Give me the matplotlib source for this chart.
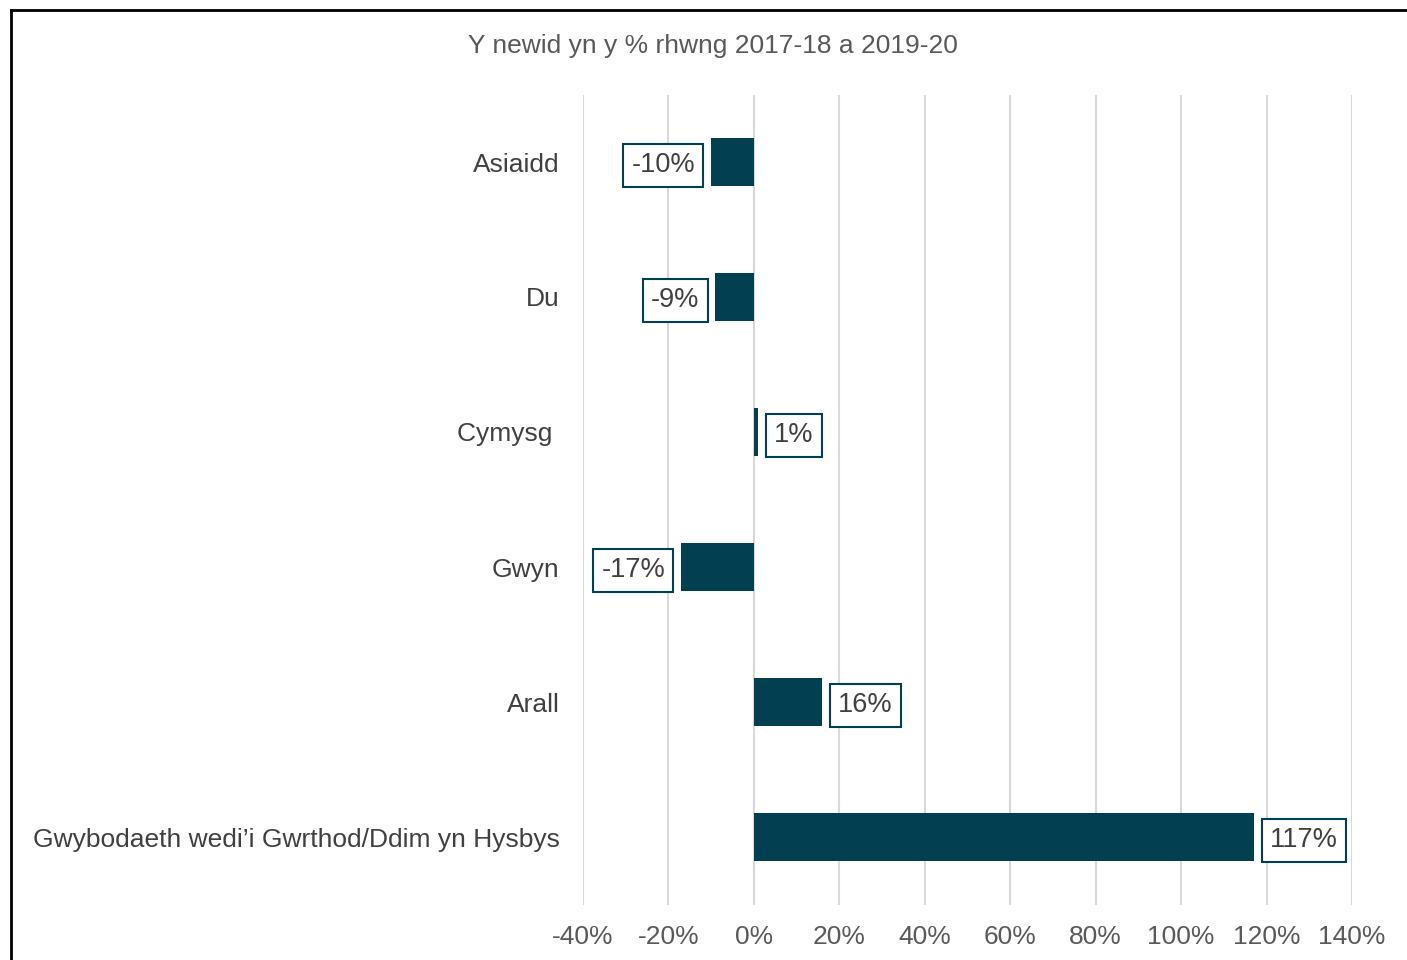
import matplotlib
matplotlib.use("Agg")
import matplotlib.pyplot as plt
from matplotlib.lines import Line2D
from matplotlib.ticker import FuncFormatter

plt.rcParams['font.family'] = ['Liberation Sans', 'DejaVu Sans']

# data
categories = ["Asiaidd", "Du", "Cymysg ", "Gwyn", "Arall",
              "Gwybodaeth wedi\u2019i Gwrthod/Ddim yn Hysbys"]
values = [-10, -9, 1, -17, 16, 117]
labels = ["-10%", "-9%", "1%", "-17%", "16%", "117%"]
ticks = [-40, -20, 0, 20, 40, 60, 80, 100, 120, 140]

bar_col = "#023f50"
txt_col = "#404040"

fig = plt.figure(figsize=(14.07, 9.6), dpi=100)
ax = fig.add_axes([583 / 1407, 1 - 904.5 / 960, 769 / 1407, 810 / 960])

y = list(range(len(categories)))
ax.barh(y, values, height=0.35, color=bar_col, zorder=3)

for yi, v, lab in zip(y, values, labels):
    off = 11.5 if v >= 0 else -11.5
    ax.annotate(lab, (v, yi + 0.025), xytext=(off, 0), textcoords="offset points",
                ha="left" if v >= 0 else "right", va="center",
                fontsize=19.5, color=txt_col, zorder=4,
                bbox=dict(boxstyle="square,pad=0.3", fc="white",
                          ec=bar_col, lw=1.5))

ax.set_xlim(-40, 140)
ax.set_ylim(len(categories) - 0.5, -0.5)
ax.set_xticks(ticks)
ax.xaxis.set_major_formatter(FuncFormatter(lambda v, p: f"{v:.0f}%"))
ax.set_yticks(y)
ax.set_yticklabels(categories)
ax.tick_params(axis="x", length=0, pad=15, labelsize=19, labelcolor="#595959")
ax.tick_params(axis="y", length=0, pad=17, labelsize=19, labelcolor=txt_col)
ax.grid(axis="x", color="#d9d9d9", lw=1.5, zorder=0)
for s in ax.spines.values():
    s.set_visible(False)

fig.text(713 / 1407, 1 - 46 / 960, "Y newid yn y % rhwng 2017-18 a 2019-20",
         ha="center", va="center", fontsize=19, color="#595959")

# outer frame (cut off at right and bottom)
fig.add_artist(Line2D([11 / 1407, 11 / 1407], [0, 1 - 10 / 960], color="black", lw=2))
fig.add_artist(Line2D([11 / 1407, 1], [1 - 10 / 960, 1 - 10 / 960], color="black", lw=2))

fig.savefig("out.png", dpi=100)
